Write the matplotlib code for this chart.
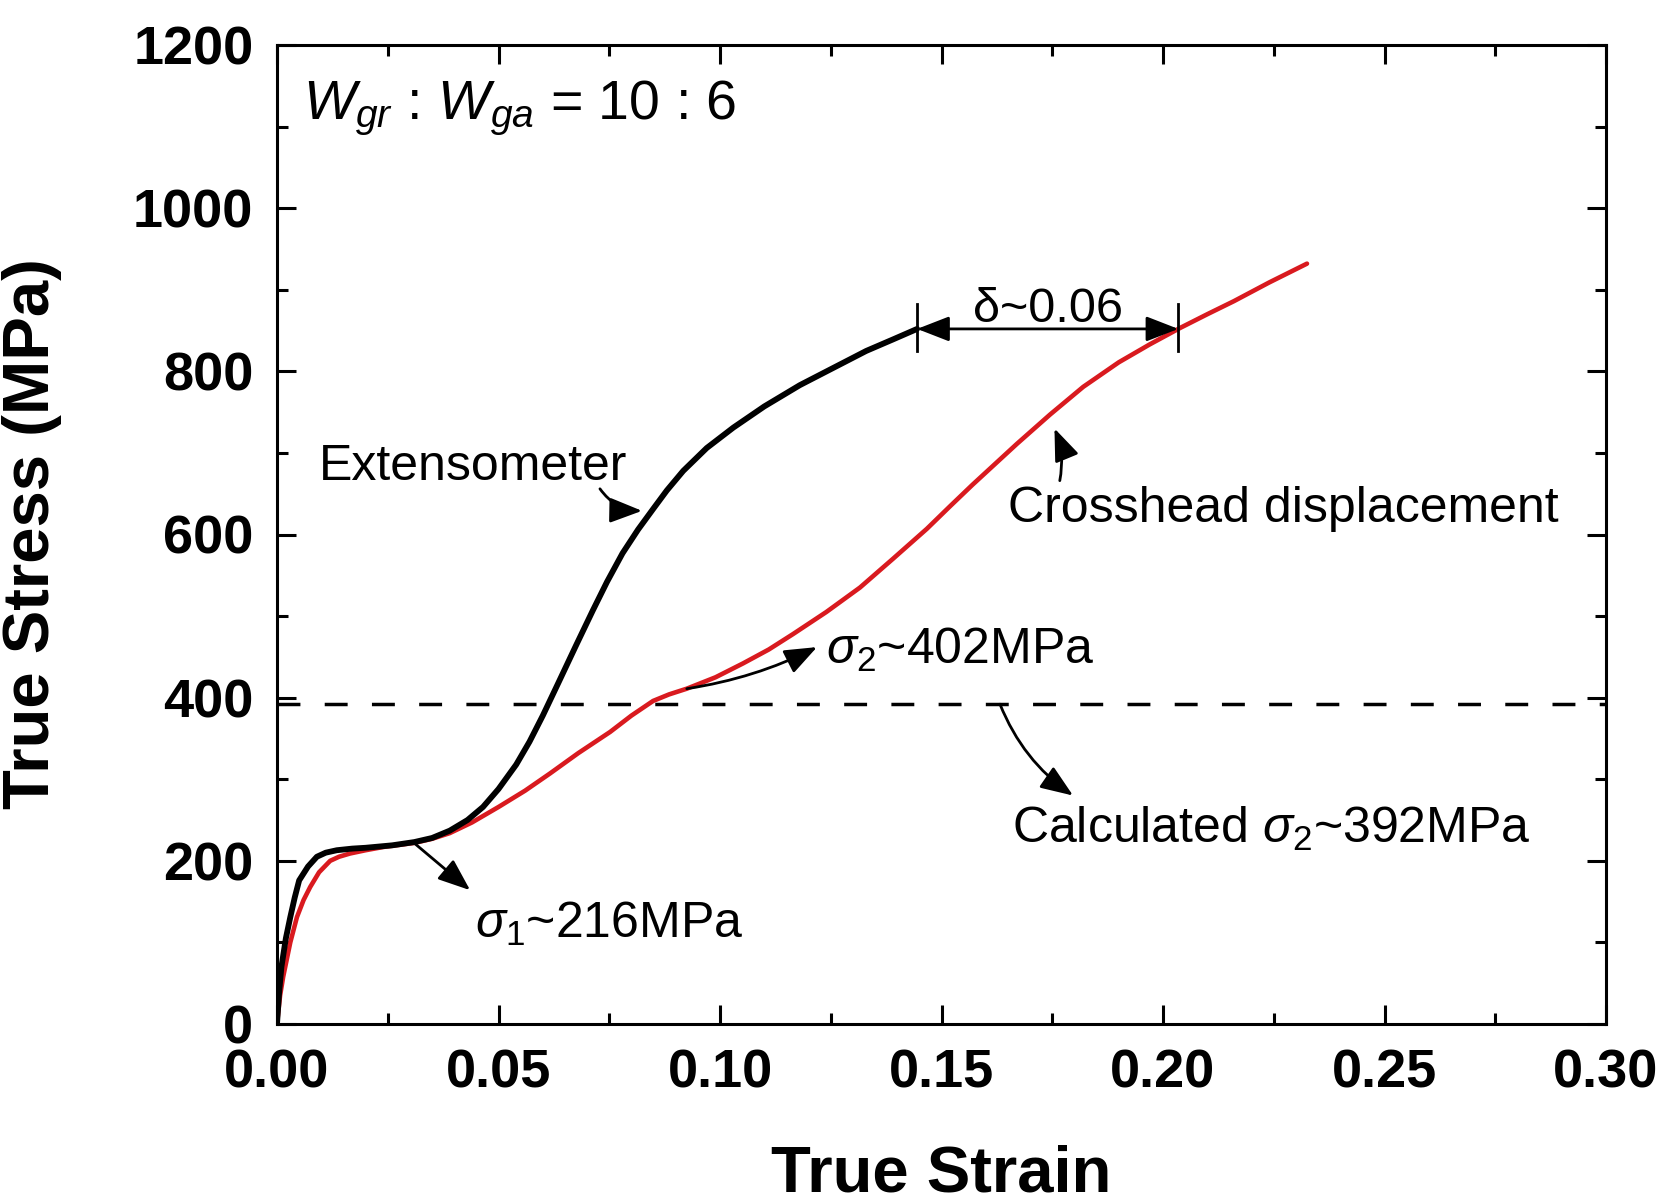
import numpy as np
import matplotlib
matplotlib.use("Agg")
import matplotlib.pyplot as plt
from matplotlib.ticker import MultipleLocator, FormatStrFormatter

plt.rcParams['font.family'] = ['Liberation Sans', 'DejaVu Sans']
plt.rcParams['mathtext.fontset'] = 'custom'
plt.rcParams['mathtext.rm'] = 'Liberation Sans'
plt.rcParams['mathtext.it'] = 'Liberation Sans:italic'
plt.rcParams['mathtext.bf'] = 'Liberation Sans:bold'

# ---------------- data ----------------
ext_strain = [0, 0.0005, 0.001, 0.002, 0.003, 0.004, 0.005, 0.007, 0.009, 0.011,
              0.0135, 0.017, 0.020, 0.026, 0.031, 0.035, 0.039, 0.043, 0.0465,
              0.050, 0.054, 0.057, 0.060, 0.0635, 0.0675, 0.0713, 0.0745, 0.078,
              0.0815, 0.085, 0.088, 0.0917, 0.097, 0.103, 0.110, 0.118, 0.1255,
              0.133, 0.139, 0.1445]
ext_stress = [0, 40, 70, 105, 131, 155, 176, 193, 205, 210,
              213, 215, 216, 219, 223, 228, 237, 250, 266,
              288, 318, 346, 378, 418, 464, 507, 542, 577,
              606, 632, 654, 678, 706, 731, 757, 783, 804,
              825, 839, 852]

ch_strain = [0, 0.0007, 0.0014, 0.003, 0.0045, 0.006, 0.0075, 0.0095, 0.012, 0.014,
             0.0165, 0.020, 0.024, 0.031, 0.035, 0.039, 0.044, 0.050, 0.056,
             0.0616, 0.068, 0.0752, 0.080, 0.0849, 0.0885, 0.0925, 0.099, 0.1052,
             0.111, 0.1165, 0.124, 0.1316, 0.139, 0.1467, 0.152, 0.157, 0.1616,
             0.167, 0.1745, 0.182, 0.190, 0.197, 0.2038, 0.210, 0.216, 0.224, 0.2325]
ch_stress = [0, 35, 58, 100, 131, 152, 168, 186, 200, 205,
             209, 213, 217, 222, 227, 234, 247, 266, 286,
             307, 332, 358, 378, 396, 404, 411, 425, 442,
             459, 478, 505, 535, 570, 607, 635, 661, 684,
             711, 747, 781, 811, 833, 853, 870, 886, 909, 932]

calc_sigma2 = 392
x_ticks = [0.00, 0.05, 0.10, 0.15, 0.20, 0.25, 0.30]
y_ticks = [0, 200, 400, 600, 800, 1000, 1200]

RED = '#d91a1f'

# ---------------- figure ----------------
W, H = 1668, 1203
fig = plt.figure(figsize=(W / 100, H / 100), dpi=100)
L, R, T, B = 277, 1606, 45, 1024
ax = fig.add_axes([L / W, 1 - B / H, (R - L) / W, (B - T) / H])

ax.plot(ch_strain, ch_stress, color=RED, lw=3.3, solid_capstyle='round',
        solid_joinstyle='round', zorder=3)
ax.plot(ext_strain, ext_stress, color='black', lw=4.2, solid_capstyle='round',
        solid_joinstyle='round', zorder=4)
ax.axhline(calc_sigma2, color='black', lw=2.5, dashes=(6.6, 7.0), zorder=2)

ax.set_xlim(x_ticks[0], x_ticks[-1])
ax.set_ylim(y_ticks[0], y_ticks[-1])
ax.set_xticks(x_ticks)
ax.set_yticks(y_ticks)
ax.xaxis.set_major_formatter(FormatStrFormatter('%.2f'))
ax.xaxis.set_minor_locator(MultipleLocator(0.025))
ax.yaxis.set_minor_locator(MultipleLocator(100))
ax.tick_params(which='both', direction='in', top=True, right=True, width=2.2)
ax.tick_params(which='major', length=14)
ax.tick_params(which='minor', length=8)
ax.tick_params(axis='x', which='major', pad=18)
ax.tick_params(axis='y', which='major', pad=17)
for lab in ax.get_xticklabels() + ax.get_yticklabels():
    lab.set_fontsize(39)
    lab.set_fontweight('bold')
for sp in ax.spines.values():
    sp.set_linewidth(2.2)

fig.text(941 / W, 1 - 1191 / H, 'True Strain', fontsize=47, fontweight='bold',
         ha='center', va='baseline')
fig.text(32 / W, 1 - 534 / H, 'True Stress (MPa)', fontsize=47, fontweight='bold',
         ha='center', va='center', rotation=90)

# ---------------- annotations ----------------
FS = 36
ax.text(0.0059, 1109, r'$W_{gr}$ : $W_{ga}$ = 10 : 6', fontsize=40, ha='left', va='baseline')

arrow_kw = dict(arrowstyle='-|>,head_length=0.9,head_width=0.35', color='black',
                lw=2.0, mutation_scale=22, shrinkA=0, shrinkB=0)

ax.text(0.0095, 667, 'Extensometer', fontsize=FS, ha='left', va='baseline')
ax.annotate('', xy=(0.0824, 629), xytext=(0.0729, 656),
            arrowprops=dict(connectionstyle='arc3,rad=0.25', **arrow_kw))

ax.text(0.165, 615, 'Crosshead displacement', fontsize=FS, ha='left', va='baseline')
ax.annotate('', xy=(0.1755, 730), xytext=(0.1767, 666),
            arrowprops=dict(connectionstyle='arc3,rad=0.15', **arrow_kw))

ax.text(0.124, 442, r'$\sigma_{\mathit{2}}$~402MPa', fontsize=FS, ha='left', va='baseline')
ax.annotate('', xy=(0.1219, 462), xytext=(0.0925, 411),
            arrowprops=dict(connectionstyle='arc3,rad=0.08', **arrow_kw))

ax.text(0.1659, 222, r'Calculated $\sigma_{\mathit{2}}$~392MPa', fontsize=FS, ha='left', va='baseline')
ax.annotate('', xy=(0.1797, 280), xytext=(0.1632, calc_sigma2),
            arrowprops=dict(connectionstyle='arc3,rad=0.15', **arrow_kw))

ax.text(0.0447, 105, r'$\sigma_{\mathit{1}}$~216MPa', fontsize=FS, ha='left', va='baseline')
ax.annotate('', xy=(0.0436, 164), xytext=(0.0307, 223),
            arrowprops=dict(connectionstyle='arc3,rad=0', **arrow_kw))

# delta between curves at the end stress of the extensometer curve
y_d = ext_stress[-1]
x_a = ext_strain[-1]
x_b = float(np.interp(y_d, ch_stress, ch_strain))
ax.annotate('', xy=(x_b, y_d), xytext=(x_a, y_d),
            arrowprops=dict(arrowstyle='<|-|>,head_length=0.9,head_width=0.35', color='black',
                            lw=2.0, mutation_scale=22, shrinkA=0, shrinkB=0), zorder=5)
ax.plot([x_a, x_a], [y_d - 27, y_d + 31], color='black', lw=2.0, zorder=5)
ax.plot([x_b, x_b], [y_d - 27, y_d + 31], color='black', lw=2.0, zorder=5)
ax.text((x_a + x_b) / 2, 860, 'δ~0.06', fontsize=35, ha='center', va='baseline')

fig.savefig('out.png', dpi=100)
